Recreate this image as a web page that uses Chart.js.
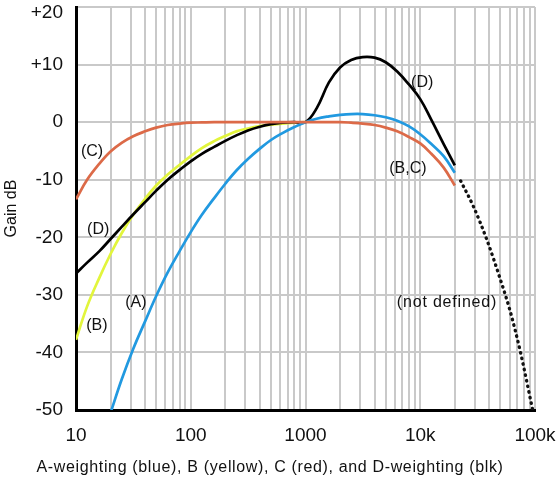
<!DOCTYPE html>
<html>
<head>
<meta charset="utf-8">
<script src="https://cdn.jsdelivr.net/npm/chart.js@4.4.1/dist/chart.umd.min.js"></script>
<style>
  html, body { margin: 0; padding: 0; background: #fff; }
  canvas { display: block; }
</style>
</head>
<body>
<canvas id="weightingChart" width="560" height="482"></canvas>
<script>
// readings taken off the reference curves (Hz, dB)
const freqsA = [20, 25, 31.5, 40, 50, 63, 80, 100, 125, 160, 200, 250, 315, 400, 500, 630, 800, 1000,
    1250, 1600, 2000, 2500, 3150, 4000, 5000, 6300, 8000, 10000, 12500, 16000, 20000];
const gainA = [-50.5, -44.7, -39.4, -34.6, -30.2, -26.1, -22.4, -19.1, -16.1, -13.2, -10.7, -8.4, -6.4, -4.6, -3.1, -1.9, -0.85, 0,
    0.6, 1.0, 1.25, 1.4, 1.4, 1.2, 0.85, 0.25, -0.75, -2.1, -3.8, -5.9, -8.8];

const freqsB = [10, 12.5, 16, 20, 25, 31.5, 40, 50, 63, 80, 100, 125, 160, 200, 250, 315, 400, 500, 630, 800, 1000];
const gainB = [-37.8, -32.0, -27.0, -22.9, -19.3, -16.1, -13.3, -11.0, -9.1, -7.4, -5.9, -4.5, -3.3, -2.4, -1.6, -1.1, -0.7, -0.45, -0.25, -0.1, 0];

const freqsC = [10, 12.5, 16, 20, 25, 31.5, 40, 50, 63, 80, 100, 125, 160, 315, 1000,
    2000, 2500, 3150, 4000, 5000, 6300, 8000, 10000, 12500, 16000, 20000];
const gainC = [-13.4, -10.0, -7.2, -5.1, -3.6, -2.45, -1.6, -0.95, -0.5, -0.25, -0.1, -0.05, 0, 0, 0,
    0, -0.1, -0.25, -0.5, -0.95, -1.6, -2.6, -3.7, -5.5, -7.9, -11.0];

const freqsD = [10, 12.5, 16, 20, 25, 31.5, 40, 50, 63, 80, 100, 125, 160, 200, 250, 315, 400, 500, 630, 800, 1000,
    1250, 1600, 2000, 2500, 3150, 4000, 5000, 6300, 8000, 10000, 12500, 16000, 20000];
const gainD = [-26.3, -24.4, -22.4, -20.3, -18.2, -16.05, -13.9, -11.9, -10.0, -8.3, -6.8, -5.5, -4.3, -3.25, -2.3, -1.45, -0.8, -0.35, -0.1, 0, 0,
    2.4, 6.9, 9.5, 10.8, 11.3, 11.2, 10.4, 8.8, 6.5, 4.0, 0.4, -3.8, -7.5];

const freqsUndefined = [22500, 29000, 38000, 51000, 60500, 74000, 95000];
const gainUndefined = [-10.2, -14.6, -20.4, -27.9, -32.7, -39.6, -49.8];

const xMajorTicks = [10, 100, 1000, 10000, 100000];
const xTickLabels = ['10', '100', '1000', '10k', '100k'];
const yTickValues = [20, 10, 0, -10, -20, -30, -40, -50];
const yTickLabels = ['+20', '+10', '0', '-10', '-20', '-30', '-40', '-50'];

const noteTexts = ['(C)', '(D)', '(B)', '(A)', '(D)', '(B,C)', '(not defined)'];
const noteFreqs = [13.8, 15.6, 15.2, 33.3, 10400, 7800, 17100];
const noteGains = [-5.2, -18.6, -35.4, -31.4, 6.8, -8.0, -31.4];

const xTitle = 'A-weighting (blue), B (yellow), C (red), and D-weighting (blk)';
const FONT = "'Liberation Sans', Arial, sans-serif";

function points(freqs, gains) {
    return freqs.map((f, i) => ({ x: f, y: gains[i] }));
}

// grid lines at 1..9 times every decade
const xGridTicks = [];
for (let d = 10; d < 100000; d *= 10) {
    for (let m = 1; m < 10; m++) xGridTicks.push(d * m);
}
xGridTicks.push(100000);

function curve(label, freqs, gains, color) {
    return {
        label: label,
        data: points(freqs, gains),
        borderColor: color,
        borderWidth: 2.7,
        pointRadius: 0,
        fill: false,
        tension: 0.4
    };
}

const textPlugin = {
    id: 'texts',
    afterDatasetsDraw(chart) {
        const ctx = chart.ctx, xs = chart.scales.x, ys = chart.scales.y;
        ctx.save();
        ctx.fillStyle = '#111';
        ctx.textBaseline = 'middle';

        // y tick labels, the top one kept inside the canvas
        ctx.font = '19px ' + FONT;
        ctx.textAlign = 'right';
        yTickValues.forEach((v, i) => {
            ctx.fillText(yTickLabels[i], 63, Math.max(ys.getPixelForValue(v), 13));
        });

        // curve notes
        ctx.textAlign = 'center';
        ctx.font = '16px ' + FONT;
        noteTexts.forEach((t, i) => {
            ctx.letterSpacing = t.length > 6 ? '0.8px' : '0px';
            ctx.fillText(t, xs.getPixelForValue(noteFreqs[i]), ys.getPixelForValue(noteGains[i]));
        });

        // x axis caption
        ctx.letterSpacing = '0.65px';
        ctx.fillText(xTitle, 270, 468);
        ctx.restore();
    }
};

const dotted = curve('not defined', freqsUndefined, gainUndefined, '#111');
dotted.borderWidth = 3.3;
dotted.borderDash = [0.5, 5.2];
dotted.borderCapStyle = 'round';
dotted.cubicInterpolationMode = 'monotone';

const weightingChart = new Chart(document.getElementById('weightingChart'), {
    type: 'line',
    data: {
        datasets: [
            curve('C', freqsC, gainC, '#dc6a48'),
            curve('A', freqsA, gainA, '#2199e0'),
            curve('D', freqsD, gainD, '#000000'),
            curve('B', freqsB, gainB, '#e2f53c'),
            dotted
        ]
    },
    options: {
        responsive: false,
        animation: false,
        layout: { padding: { left: 0, right: 25, top: 7, bottom: 0 } },
        plugins: {
            legend: { display: false },
            tooltip: { enabled: false }
        },
        scales: {
            x: {
                type: 'logarithmic',
                min: 10,
                max: 100000,
                afterBuildTicks: (scale) => { scale.ticks = xGridTicks.map(v => ({ value: v })); },
                afterFit: (scale) => { scale.height = 72; scale.paddingLeft = 0; scale.paddingRight = 0; },
                grid: { color: '#c9c9c9', lineWidth: 2, drawTicks: false },
                border: { color: '#000', width: 3 },
                ticks: {
                    autoSkip: false,
                    maxRotation: 0,
                    padding: 14,
                    color: '#111',
                    font: { family: FONT, size: 19 },
                    callback: function (value) {
                        const i = xMajorTicks.indexOf(value);
                        return i < 0 ? '' : xTickLabels[i];
                    }
                }
            },
            y: {
                min: -50,
                max: 20,
                afterBuildTicks: (scale) => { scale.ticks = yTickValues.map(v => ({ value: v })); },
                afterFit: (scale) => { scale.width = 76; scale.paddingTop = 0; scale.paddingBottom = 0; },
                grid: { color: '#c9c9c9', lineWidth: 2, drawTicks: false },
                border: { color: '#000', width: 3 },
                ticks: { display: false },
                title: {
                    display: true,
                    text: 'Gain dB',
                    color: '#111',
                    font: { family: FONT, size: 16 },
                    padding: { top: 1.5, bottom: 0 }
                }
            }
        }
    },
    plugins: [textPlugin]
});
</script>
</body>
</html>
